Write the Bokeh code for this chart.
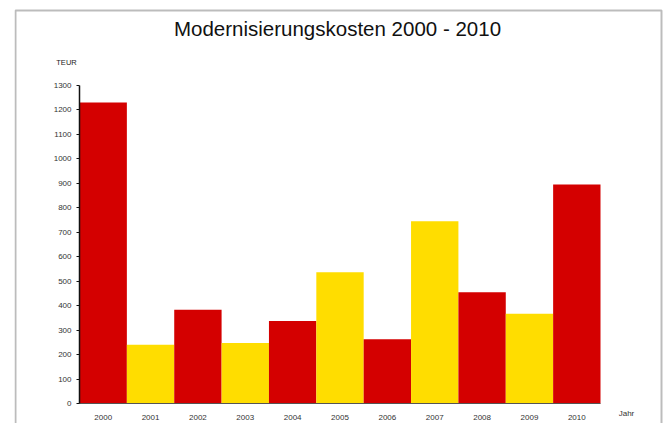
from bokeh.plotting import figure
from bokeh.models import ColumnDataSource, FixedTicker, Label, Range1d, FactorRange, BoxAnnotation
from bokeh.embed import file_html
from bokeh.resources import INLINE

years = ["2000", "2001", "2002", "2003", "2004", "2005", "2006", "2007", "2008", "2009", "2010"]
costs = [1230, 240, 383, 247, 337, 537, 263, 745, 455, 367, 895]
bar_colors = ["#D40000", "#FFDD00", "#D40000", "#FFDD00", "#D40000", "#FFDD00",
              "#D40000", "#FFDD00", "#D40000", "#FFDD00", "#D40000"]
y_ticks = [0, 100, 200, 300, 400, 500, 600, 700, 800, 900, 1000, 1100, 1200, 1300]

title_text = "Modernisierungskosten 2000 - 2010"
y_unit = "TEUR"
x_unit = "Jahr"

# layout constants (pixels)
W, H = 665, 423
frame_l, frame_r, frame_t, frame_b = 14, 665, 0, 423
bars_l, bars_r = 79, 600                    # pixel columns spanned by the bars
axis_y0_px, axis_ytop_px = 403, 85          # pixel rows of value 0 and 1300
px_per_unit = (axis_y0_px - axis_ytop_px) / 1300.0
y_lo = -(frame_b - axis_y0_px) / px_per_unit
y_hi = 1300 + (axis_ytop_px - frame_t) / px_per_unit
px_per_bar = (bars_r - bars_l) / len(years)
pad_each = ((frame_r - frame_l) - (bars_r - bars_l)) / 2.0 / px_per_bar

src = ColumnDataSource(dict(year=years, cost=costs, color=bar_colors))

xr = FactorRange(factors=years, range_padding=pad_each, range_padding_units="absolute")
p = figure(x_range=xr, y_range=Range1d(y_lo, y_hi), width=W, height=H,
           output_backend="svg", toolbar_location=None, title=None,
           min_border_left=frame_l, min_border_right=W - frame_r,
           min_border_top=frame_t, min_border_bottom=H - frame_b)

p.vbar(x="year", top="cost", width=1.0, fill_color="color", line_color=None, source=src)

p.xgrid.visible = False
p.ygrid.visible = False
p.outline_line_color = None
p.background_fill_color = "white"
p.border_fill_color = "white"

xa = p.xaxis[0]
xa.fixed_location = 0
xa.bounds = (0, 11)
xa.axis_line_color = "#555555"
xa.axis_line_width = 1
xa.major_tick_line_color = None
xa.minor_tick_line_color = None
xa.major_label_text_font = "Liberation Sans"
xa.major_label_text_font_size = "8px"
xa.major_label_text_color = "#333333"
xa.major_label_standoff = 5

ya = p.yaxis[0]
ya.fixed_location = 0
ya.bounds = (0, 1300)
ya.ticker = FixedTicker(ticks=y_ticks)
ya.axis_line_color = "#111111"
ya.axis_line_width = 1.5
ya.major_tick_out = 3
ya.major_tick_in = 0
ya.major_tick_line_color = "#111111"
ya.minor_tick_line_color = None
ya.major_label_text_font = "Liberation Sans"
ya.major_label_text_font_size = "8px"
ya.major_label_text_color = "#333333"
ya.major_label_standoff = 5

# framed border (left, top, right edges; bottom runs off the page)
p.add_layout(BoxAnnotation(left=15 - frame_l, right=661 - frame_l,
                           top=frame_b - 10, bottom=-10,
                           left_units="screen", right_units="screen",
                           top_units="screen", bottom_units="screen",
                           fill_alpha=0, line_color="#222222", line_width=2,
                           level="overlay"))

p.add_layout(Label(x=337 - frame_l, y=frame_b - 28, x_units="screen", y_units="screen",
                   text=title_text, text_align="center", text_baseline="middle",
                   text_font="Liberation Sans", text_font_size="20.5px",
                   text_color="#111111"))
p.add_layout(Label(x=66 - frame_l, y=frame_b - 62, x_units="screen", y_units="screen",
                   text=y_unit, text_align="center", text_baseline="middle",
                   text_font="Liberation Sans", text_font_size="7.5px",
                   text_color="#222222"))
p.add_layout(Label(x=626 - frame_l, y=frame_b - 413, x_units="screen", y_units="screen",
                   text=x_unit, text_align="center", text_baseline="middle",
                   text_font="Liberation Sans", text_font_size="8px",
                   text_color="#333333"))

open("out.html", "w").write(file_html(p, INLINE))
